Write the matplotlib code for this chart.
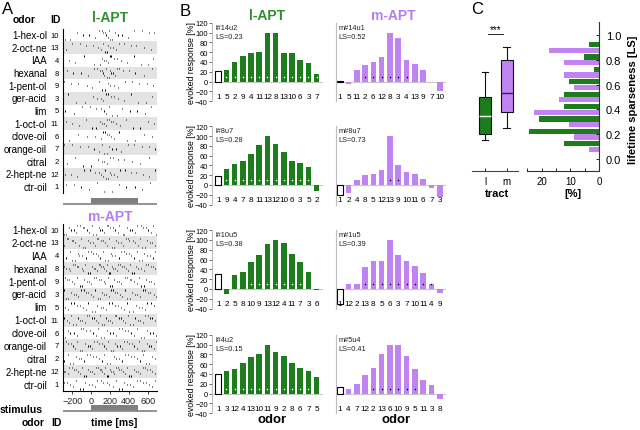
import numpy as np
import matplotlib
matplotlib.use('Agg')
from matplotlib import pyplot as plt
from matplotlib.transforms import blended_transform_factory

plt.rcParams['font.family'] = ['Liberation Sans', 'DejaVu Sans']

# figure size in pixels
W, H = 640, 431
green = '#1d7d1d'
green_title = '#2f8f2f'
purple = '#c183f2'
purple_title = '#b57ef0'

# ---------------- data: panel A (raster) ----------------
odor_names = ['1-hex-ol', '2-oct-ne', 'IAA', 'hexanal', '1-pent-ol', 'ger-acid', 'lim',
              '1-oct-ol', 'clove-oil', 'orange-oil', 'citral', '2-hept-ne', 'ctr-oil']
odor_ids = [10, 13, 4, 8, 9, 3, 5, 11, 6, 7, 2, 12, 1]
stim_on, stim_off = 0, 500

# spike times [ms] per odor, l-APT unit
l_spikes = [
    [-280, -230, -150, -90, -20, 40, 85, 110, 130, 145, 160, 175, 190, 205, 220, 250, 280, 330, 390, 460, 540, 620, 670],
    [-270, -200, -120, -60, 20, 70, 100, 125, 150, 165, 180, 200, 230, 260, 300, 350, 420, 480, 560, 640],
    [-240, -170, -80, 30, 90, 115, 140, 160, 175, 195, 215, 240, 270, 320, 380, 450, 530, 600, 660],
    [-260, -190, -110, -30, 25, 60, 90, 110, 125, 140, 155, 170, 185, 200, 215, 230, 250, 275, 300, 340, 400, 470, 560, 650],
    [-285, -210, -140, -50, 10, 80, 120, 150, 175, 200, 240, 290, 360, 430, 510, 590, 660],
    [-250, -160, -70, 15, 65, 100, 130, 155, 180, 210, 245, 290, 350, 420, 500, 580, 650],
    [-275, -180, -100, -10, 50, 105, 135, 160, 190, 225, 270, 330, 410, 490, 570, 640],
    [-265, -205, -130, -60, 5, 55, 95, 120, 140, 158, 172, 190, 210, 235, 265, 310, 370, 440, 520, 600, 670],
    [-235, -140, -40, 45, 100, 125, 145, 165, 185, 210, 240, 300, 380, 470, 560, 650],
    [-290, -200, -115, -35, 35, 85, 115, 140, 165, 190, 220, 260, 320, 390, 460, 540, 620, 680],
    [-255, -170, -85, 0, 70, 110, 140, 165, 195, 230, 280, 350, 430, 520, 610],
    [-280, -220, -150, -80, -15, 40, 80, 105, 125, 145, 160, 178, 195, 215, 240, 270, 310, 360, 420, 480, 550, 620, 680],
    [-272, -185, -108, -25, 58, 133, 226, 298, 371, 467, 545, 628],
]

# spike times [ms] per odor, m-APT unit
m_spikes = [
    [-292, -270, -233, -219, -188, -160, -151, -122, -90, -77, -41, -20, 8, 22, 47, 81, 93, 110, 137, 166, 178, 204, 231, 249, 283, 301, 338, 352, 379, 415, 433, 470, 488, 525, 547, 584, 601, 637, 655, 690],
    [-285, -258, -247, -205, -193, -170, -131, -112, -85, -63, -38, -11, 14, 39, 58, 76, 102, 121, 149, 171, 190, 216, 242, 263, 290, 318, 334, 366, 391, 403, 446, 461, 498, 517, 539, 572, 596, 622, 648, 676],
    [-296, -264, -228, -201, -176, -143, -127, -98, -59, -31, -6, 19, 53, 70, 97, 128, 145, 183, 207, 226, 258, 296, 312, 347, 371, 399, 428, 456, 483, 512, 544, 566, 593, 627, 661, 683],
    [-289, -266, -241, -224, -197, -174, -149, -136, -103, -84, -66, -37, -14, 9, 26, 41, 63, 79, 94, 108, 126, 139, 157, 172, 188, 203, 219, 236, 254, 271, 289, 306, 327, 345, 368, 387, 411, 436, 459, 478, 503, 531, 558, 579, 606, 633, 659, 684],
    [-281, -254, -236, -199, -182, -155, -118, -101, -72, -44, -26, 3, 31, 49, 86, 105, 133, 152, 174, 199, 221, 247, 274, 293, 321, 357, 376, 408, 424, 452, 491, 509, 535, 563, 588, 619, 641, 672],
    [-293, -268, -243, -211, -186, -164, -139, -108, -81, -53, -29, -2, 24, 44, 69, 91, 116, 134, 159, 187, 213, 229, 255, 278, 303, 326, 359, 381, 414, 437, 466, 492, 518, 551, 576, 607, 630, 667, 689],
    [-277, -249, -212, -184, -147, -124, -87, -58, -33, 11, 37, 66, 99, 124, 162, 193, 218, 252, 286, 315, 344, 382, 405, 441, 474, 505, 538, 569, 598, 634, 663],
    [-290, -259, -238, -217, -192, -166, -142, -116, -97, -68, -42, -19, 6, 29, 52, 74, 98, 114, 136, 158, 181, 200, 224, 248, 269, 292, 316, 340, 363, 389, 417, 440, 467, 493, 520, 546, 574, 599, 627, 652, 679],
    [-283, -246, -221, -178, -152, -113, -89, -51, -18, 16, 48, 77, 109, 138, 167, 196, 233, 262, 297, 323, 361, 394, 420, 458, 487, 526, 557, 591, 624, 657, 686],
    [-295, -271, -246, -220, -196, -171, -146, -119, -93, -67, -39, -16, 12, 35, 61, 84, 111, 131, 154, 179, 206, 227, 253, 276, 302, 329, 354, 380, 405, 431, 457, 484, 511, 536, 562, 589, 614, 641, 668, 691],
    [-287, -252, -226, -195, -161, -129, -104, -73, -47, -12, 21, 52, 83, 114, 141, 173, 205, 238, 266, 299, 331, 362, 395, 427, 455, 489, 521, 553, 586, 615, 647, 678],
    [-294, -275, -250, -231, -207, -185, -163, -144, -121, -100, -79, -55, -34, -9, 13, 32, 54, 71, 89, 103, 119, 135, 150, 167, 182, 198, 213, 229, 246, 262, 281, 299, 318, 339, 361, 383, 404, 428, 451, 474, 498, 523, 549, 574, 598, 624, 650, 675],
    [-288, -257, -223, -190, -158, -121, -92, -61, -27, 4, 36, 67, 101, 130, 163, 194, 228, 259, 291, 325, 352, 386, 418, 449, 483, 514, 548, 579, 611, 645, 676],
]

# ---------------- data: panel B (tuning curves) ----------------
l_units = ['l#14u2', 'l#8u7', 'l#10u5', 'l#4u2']
l_ls = [0.23, 0.28, 0.38, 0.15]
l_ids = [[1, 5, 2, 9, 4, 11, 12, 8, 13, 10, 6, 3, 7],
         [1, 9, 4, 7, 8, 11, 13, 12, 10, 6, 3, 5, 2],
         [1, 2, 5, 8, 10, 9, 13, 12, 4, 11, 7, 3, 6],
         [1, 3, 12, 4, 13, 10, 11, 9, 2, 8, 6, 7, 5]]
l_vals = [[21, 24, 39, 52, 59, 60, 100, 100, 59, 58, 44, 38, 15],
          [19, 32, 42, 50, 64, 82, 100, 84, 68, 50, 45, 37, -13],
          [30, -11, 28, 35, 55, 70, 91, 100, 94, 71, 55, 35, -3],
          [40, 46, 49, 62, 74, 81, 100, 84, 76, 63, 52, 46, 33]]
l_sig = [[1, 2, 3, 4, 5, 6, 7, 8, 9, 10, 11, 12],
         [1, 2, 3, 4, 5, 6, 7, 8, 9, 10, 11],
         [4, 5, 6, 7, 8, 9, 10],
         [1, 2, 3, 4, 5, 6, 7, 8, 9, 10, 11]]

m_units = ['m#14u1', 'm#8u7', 'm#1u5', 'm#5u4']
m_ls = [0.52, 0.73, 0.39, 0.41]
m_ids = [[1, 5, 11, 2, 6, 12, 8, 3, 4, 13, 9, 7, 10],
         [1, 2, 4, 8, 5, 12, 13, 9, 10, 11, 6, 7, 3],
         [1, 12, 2, 13, 8, 5, 6, 3, 7, 10, 11, 4, 9],
         [1, 4, 7, 12, 2, 13, 6, 10, 9, 5, 11, 3, 8]]
m_vals = [[1, -5, 24, 34, 39, 50, 100, 88, 44, 35, 23, 0, -19],
          [-20, -17, 11, 20, 23, 30, 100, 40, 26, 23, 12, -7, -24],
          [-30, 10, 11, 44, 57, 57, 100, 69, 57, 47, 33, 11, -8],
          [13, 9, 20, 37, 52, 80, 100, 100, 77, 51, 28, 18, -11]]
m_sig = [[3, 4, 5, 6, 7, 8],
         [6, 7],
         [3, 4, 5, 6, 7, 8, 9, 10, 11],
         [4, 5, 6, 7, 8, 9]]

# ---------------- data: panel C ----------------
tracts = ['l', 'm']
box_whislo = [0.15, 0.25]
box_q1 = [0.20, 0.38]
box_med = [0.35, 0.53]
box_q3 = [0.50, 0.80]
box_whishi = [0.70, 0.90]

ls_bins = [0.1, 0.2, 0.3, 0.4, 0.5, 0.6, 0.7, 0.8, 0.9]
hist_l = [12.2, 24.4, 20.9, 12.2, 12.2, 10.5, 1.7, 5.2, 3.5]
hist_m = [3.5, 8.7, 10.5, 22.7, 14.0, 8.7, 12.2, 12.2, 17.4]


fig = plt.figure(figsize=(6.4, 4.31), dpi=100)


def px_box(x0, y0, x1, y1):
    # pixel box (top-left origin) -> figure fraction rect
    return [x0 / W, 1 - y1 / H, (x1 - x0) / W, (y1 - y0) / H]


def ftext(x, y, s, **kw):
    fig.text(x / W, 1 - y / H, s, **kw)


# order in which the spikes of a row are spread over the 5 trial lines
trial_order = [4, 9, 1, 7, 12, 3, 10, 0, 6, 11, 2, 8, 5]


# ---------------- panel A ----------------
def draw_raster(ax, spikes, bottom_axis):
    for i in range(len(odor_names)):
        if i % 2 == 1:
            ax.axhspan(i - 0.5, i + 0.5, color='#e3e3e3', lw=0, zorder=0)
        times = spikes[i]
        trial = [trial_order[(k + 5 * i) % 13] % 5 for k in range(len(times))]
        ys = np.array([i - 0.34 + 0.17 * t for t in trial])
        ax.vlines(times, ys - 0.045, ys + 0.045, color='k', lw=0.7, zorder=2)
    ax.set_xlim(-300, 700)
    ax.set_ylim(len(odor_names) - 0.5, -0.5)
    ax.set_yticks([])
    for s in ['top', 'right']:
        ax.spines[s].set_visible(False)
    ax.spines['left'].set_linewidth(0.8)
    if bottom_axis:
        ax.spines['bottom'].set_linewidth(0.8)
        ax.set_xticks([-200, 0, 200, 400, 600])
        ax.tick_params(axis='x', labelsize=6.5, length=2, width=0.6, pad=1.5, colors='#222222')
    else:
        ax.spines['bottom'].set_visible(False)
        ax.set_xticks([])
    tr = blended_transform_factory(ax.transAxes, ax.transData)
    for i in range(len(odor_names)):
        ax.text(-0.17, i, odor_names[i], transform=tr, ha='right', va='center', fontsize=7)
        ax.text(-0.045, i, str(odor_ids[i]), transform=tr, ha='right', va='center', fontsize=5.5)


def draw_stim(x0, x1, y_top, y_bot):
    ax = fig.add_axes(px_box(x0, y_top, x1, y_bot))
    ax.plot([-300, 700], [0, 0], color='#8a8a8a', lw=1.3, solid_capstyle='butt')
    ax.fill_between([stim_on, stim_off], 0, 1, color='#7f7f7f', lw=0)
    ax.set_xlim(-300, 700)
    ax.set_ylim(-0.12, 1)
    ax.axis('off')


ax_a1 = fig.add_axes(px_box(63, 29.7, 157, 194.3))
draw_raster(ax_a1, l_spikes, False)
ax_a2 = fig.add_axes(px_box(63, 224.6, 157, 392))
draw_raster(ax_a2, m_spikes, True)
draw_stim(63, 157, 199, 206)
draw_stim(63, 157, 406, 413)

ftext(8, 10, 'A', fontsize=12, ha='center', va='center')
ftext(24, 20, 'odor', fontsize=7.5, weight='bold', ha='center', va='center')
ftext(55, 20, 'ID', fontsize=7.5, weight='bold', ha='center', va='center')
ftext(110, 18, 'l-APT', fontsize=10, weight='bold', color=green_title, ha='center', va='center')
ftext(110, 217, 'm-APT', fontsize=10, weight='bold', color=purple_title, ha='center', va='center')
ftext(43, 410, 'stimulus', fontsize=7.5, weight='bold', ha='right', va='center')
ftext(33, 423, 'odor', fontsize=7.5, weight='bold', ha='center', va='center')
ftext(56, 423, 'ID', fontsize=7.5, weight='bold', ha='center', va='center')
ftext(114, 423, 'time [ms]', fontsize=7.5, weight='bold', ha='center', va='center')


# ---------------- panel B ----------------
def draw_bars(ax, ids, vals, sig, col, dotcol, unit, ls, left_ticks):
    x = np.arange(len(vals))
    ax.axhline(0, color='#c6c6c6', lw=0.8, zorder=0)
    ax.bar(x[1:], vals[1:], width=0.68, color=col, lw=0, zorder=2)
    ax.bar(x[:1], vals[:1], width=0.68, color='white', edgecolor='k', lw=0.8, zorder=2)
    ax.plot(x[sig], [10] * len(sig), 'o', ms=1.1, color=dotcol, mec='none', zorder=3)
    for xi, oid in zip(x, ids):
        ax.text(xi, -30, str(oid), ha='center', va='center', fontsize=5.9)
    ax.text(0.025, 0.985, unit + '\nLS=%.2f' % ls, transform=ax.transAxes, ha='left', va='top',
            fontsize=5.3, linespacing=1.35, color='#222222')
    ax.set_ylim(-40, 120)
    ax.set_xticks([])
    for s in ['top', 'right', 'bottom']:
        ax.spines[s].set_visible(False)
    ax.spines['left'].set_color('#bdbdbd')
    ax.spines['left'].set_linewidth(0.8)
    if left_ticks:
        ax.set_yticks([-40, -20, 0, 20, 40, 60, 80, 100, 120])
        ax.tick_params(axis='y', labelsize=5.4, length=2, width=0.6, pad=1.2, color='#555555')
        ax.text(-0.185, 0.5, 'evoked response [%]', transform=ax.transAxes, rotation=90,
                ha='center', va='center', fontsize=6.3)
    else:
        ax.set_yticks([])


baselines = [82.5, 186, 290, 394.5]
for r in range(4):
    b = baselines[r]
    top, bot = b - 58.8, b + 19.6
    axl = fig.add_axes(px_box(212.3, top, 323, bot))
    axl.set_xlim(-0.73, 12.77)
    draw_bars(axl, l_ids[r], l_vals[r], l_sig[r], green, 'white', l_units[r], l_ls[r], True)
    axr = fig.add_axes(px_box(336, top, 446, bot))
    axr.set_xlim(-0.5, 12.75)
    draw_bars(axr, m_ids[r], m_vals[r], m_sig[r], purple, 'black', m_units[r], m_ls[r], False)

ftext(185, 12, 'B', fontsize=12, ha='center', va='center')
ftext(267, 16, 'l-APT', fontsize=10, weight='bold', color=green_title, ha='center', va='center')
ftext(393, 16, 'm-APT', fontsize=10, weight='bold', color=purple_title, ha='center', va='center')
ftext(272, 420, 'odor', fontsize=9.5, weight='bold', ha='center', va='center')
ftext(396, 420, 'odor', fontsize=9.5, weight='bold', ha='center', va='center')


# ---------------- panel C ----------------
ylim_c = (-0.093, 1.105)
axb = fig.add_axes(px_box(471.7, 23, 518, 171.5))
stats = []
for i in range(2):
    stats.append(dict(whislo=box_whislo[i], q1=box_q1[i], med=box_med[i], q3=box_q3[i],
                      whishi=box_whishi[i], fliers=[], label=tracts[i]))
bp = axb.bxp(stats, positions=[1, 2], widths=0.56, patch_artist=True, showfliers=False,
             capwidths=0.3)
for i, col in enumerate([green, purple]):
    bp['boxes'][i].set(facecolor=col, edgecolor='#111111', lw=0.8)
bp['medians'][0].set(color='white', lw=1.0)
bp['medians'][1].set(color='#3a1f55', lw=1.0)
for w in bp['whiskers'] + bp['caps']:
    w.set(color='#111111', lw=0.8)
axb.set_xlim(0.38, 2.53)
axb.set_ylim(*ylim_c)
axb.set_yticks([])
for s in ['top', 'right', 'left']:
    axb.spines[s].set_visible(False)
axb.spines['bottom'].set_color('#444444')
axb.spines['bottom'].set_linewidth(0.8)
axb.tick_params(axis='x', direction='in', length=2, width=0.6, labelsize=7, pad=4)
axb.plot([1.14, 1.84], [1.008, 1.008], color='k', lw=0.6)
axb.text(1.49, 1.045, '***', ha='center', va='center', fontsize=7)

axh = fig.add_axes(px_box(526.6, 23, 599, 171.5))
bins = np.array(ls_bins)
axh.barh(bins + 0.023, hist_l, height=0.042, color=green, lw=0)
axh.barh(bins - 0.023, hist_m, height=0.042, color=purple, lw=0)
axh.set_xlim(25.3, 0)
axh.set_ylim(*ylim_c)
for s in ['top', 'left']:
    axh.spines[s].set_visible(False)
for s in ['bottom', 'right']:
    axh.spines[s].set_color('#333333')
    axh.spines[s].set_linewidth(0.8)
axh.yaxis.tick_right()
axh.set_yticks([0, 0.2, 0.4, 0.6, 0.8, 1.0])
axh.set_yticklabels(['0.0', '0.2', '0.4', '0.6', '0.8', '1.0'])
axh.set_xticks([20, 10, 0])
axh.set_xticks([25, 15, 5], minor=True)
axh.tick_params(axis='y', direction='in', length=2, width=0.6, labelsize=8, pad=5)
axh.tick_params(axis='x', which='both', direction='in', length=2, width=0.6, labelsize=7, pad=4)

ftext(477, 9, 'C', fontsize=12, ha='center', va='center')
ftext(497, 194, 'tract', fontsize=8, weight='bold', ha='center', va='center')
ftext(573, 194, '[%]', fontsize=8, weight='bold', ha='center', va='center')
ftext(633, 100, 'lifetime sparseness [LS]', fontsize=8, weight='bold', rotation=90,
      ha='center', va='center')

fig.savefig('out.png', dpi=100)
